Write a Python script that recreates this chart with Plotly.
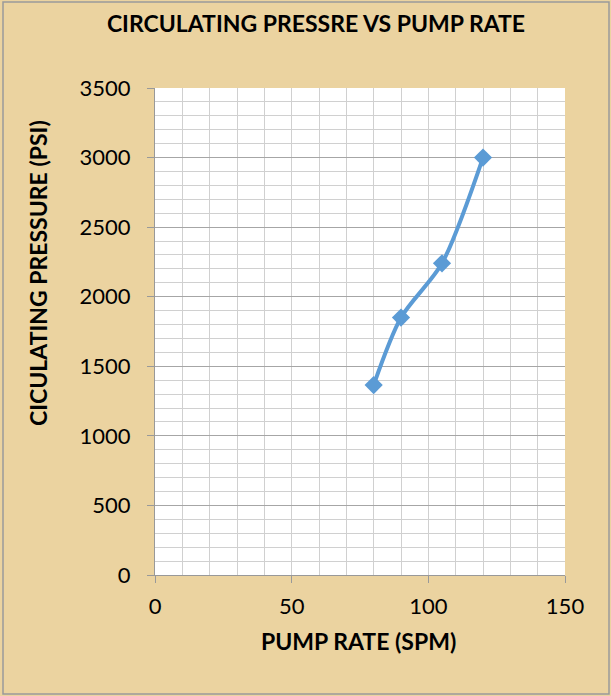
import plotly.graph_objects as go

pump_rate = [80, 90, 105, 120]
pressure = [1365, 1850, 2240, 3000]

x_ticks = [0, 50, 100, 150]
y_ticks = [0, 500, 1000, 1500, 2000, 2500, 3000, 3500]

W, H = 611, 696
L, R, T, B = 155, 46, 88, 121
pw, ph = W - L - R, H - T - B

def px_x(p):
    return (p - L) / pw

def px_y(p):
    return (H - B - p) / ph

font = "Lato, 'Open Sans', sans-serif"

fig = go.Figure()
fig.add_trace(go.Scatter(
    x=pump_rate, y=pressure, mode="lines+markers",
    line=dict(color="#5B9BD5", width=4, shape="spline", smoothing=0.8),
    marker=dict(symbol="diamond", size=14, color="#5B9BD5"),
    showlegend=False,
))

fig.update_layout(
    width=W, height=H,
    margin=dict(l=L, r=R, t=T, b=B),
    paper_bgcolor="#EBD3A0",
    plot_bgcolor="white",
    font=dict(family=font, size=22, color="black"),
    title=dict(text="<b>CIRCULATING PRESSRE VS PUMP RATE</b>",
               x=316 / W, xanchor="center", xref="container",
               y=1 - 24 / H, yanchor="middle", yref="container",
               font=dict(size=23, family=font, color="black")),
    xaxis=dict(range=[0, 150], tickvals=x_ticks, showgrid=True,
               gridcolor="#D0D0D0", gridwidth=1,
               minor=dict(dtick=10, showgrid=True, gridcolor="#D0D0D0", gridwidth=1),
               ticks="outside", ticklen=7, tickcolor="#999999",
               showline=True, linecolor="#999999", linewidth=1,
               zeroline=False, ticklabelstandoff=5,
               tickfont=dict(size=22, family=font)),
    yaxis=dict(range=[0, 3500], tickvals=y_ticks, showgrid=True,
               gridcolor="#A6A6A6", gridwidth=1.3,
               minor=dict(dtick=100, showgrid=True, gridcolor="#D0D0D0", gridwidth=1),
               ticks="outside", ticklen=7, tickcolor="#999999",
               showline=True, linecolor="#999999", linewidth=1,
               zeroline=False, ticklabelstandoff=12,
               tickfont=dict(size=22, family=font)),
    annotations=[
        dict(text="<b>CICULATING PRESSURE (PSI)</b>", textangle=-90,
             xref="paper", yref="paper", x=px_x(38), y=px_y(273),
             xanchor="center", yanchor="middle", showarrow=False,
             font=dict(size=23, family=font)),
        dict(text="<b>PUMP RATE (SPM)</b>",
             xref="paper", yref="paper", x=px_x(358), y=px_y(641),
             xanchor="center", yanchor="middle", showarrow=False,
             font=dict(size=23, family=font)),
    ],
    shapes=[dict(type="rect", xref="paper", yref="paper",
                 x0=px_x(3), x1=px_x(609), y0=px_y(694), y1=px_y(2),
                 line=dict(color="#9A9A9A", width=1.5), layer="above")],
)

fig.write_html("out.html")
